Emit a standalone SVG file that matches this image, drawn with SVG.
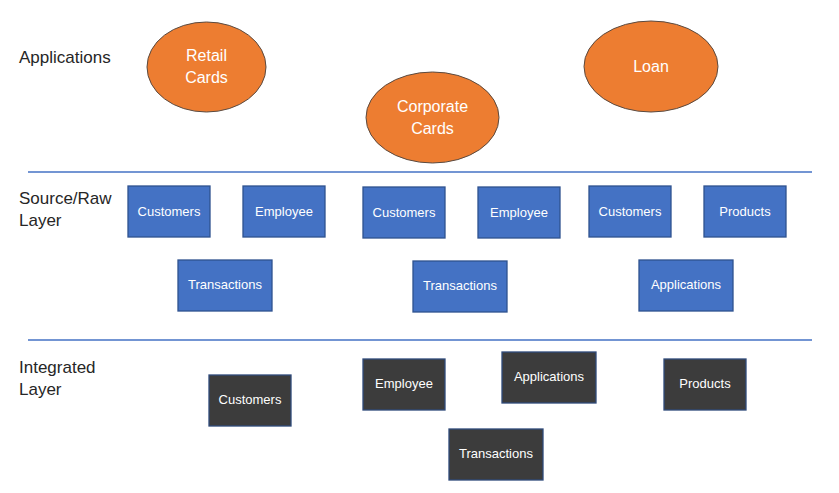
<svg xmlns="http://www.w3.org/2000/svg" width="839" height="493" viewBox="0 0 839 493">
<style>
.lbl{font-family:"Liberation Sans",Arial,sans-serif;font-size:17px;fill:#262626}
.app ellipse{fill:#ED7D31;stroke:#5a4a40;stroke-width:1}
.app text{font-family:"Liberation Sans",Arial,sans-serif;font-size:16px;fill:#ffffff;text-anchor:middle}
.src rect{fill:#4472C4;stroke:#2F528F;stroke-width:1.3}
.int rect{fill:#3C3C3C;stroke:#2F4A7A;stroke-width:1.3}
.src text,.int text{font-family:"Liberation Sans",Arial,sans-serif;font-size:13px;fill:#ffffff;text-anchor:middle}
.sep{stroke:#4472C4;stroke-width:1.5}
</style>
<rect width="839" height="493" fill="#ffffff"/>
<g id="labels">
<text class="lbl" x="19" y="63">Applications</text>
<text class="lbl" x="19" y="204">Source/Raw</text>
<text class="lbl" x="19" y="226">Layer</text>
<text class="lbl" x="19" y="373">Integrated</text>
<text class="lbl" x="19" y="395">Layer</text>
</g>
<g id="separators">
<line class="sep" x1="28" y1="172" x2="812" y2="172"/>
<line class="sep" x1="28" y1="340" x2="812" y2="340"/>
</g>
<g id="connectors"/>
<g id="app-retail" class="app"><ellipse cx="206.5" cy="67" rx="59.5" ry="45"/><text x="206.5" y="61">Retail</text><text x="206.5" y="83">Cards</text></g>
<g id="app-corporate" class="app"><ellipse cx="432.5" cy="117.5" rx="66.5" ry="45.5"/><text x="432.5" y="112">Corporate</text><text x="432.5" y="134">Cards</text></g>
<g id="app-loan" class="app"><ellipse cx="651" cy="66.5" rx="67" ry="45.5"/><text x="651" y="72">Loan</text></g>
<g id="src-customers-1" class="src"><rect x="128" y="186" width="82" height="51"/><text x="169" y="216">Customers</text></g>
<g id="src-employee-1" class="src"><rect x="243" y="186" width="82" height="51"/><text x="284" y="216">Employee</text></g>
<g id="src-customers-2" class="src"><rect x="363" y="187" width="82" height="51"/><text x="404" y="217">Customers</text></g>
<g id="src-employee-2" class="src"><rect x="478" y="187" width="82" height="51"/><text x="519" y="217">Employee</text></g>
<g id="src-customers-3" class="src"><rect x="589" y="186" width="82" height="51"/><text x="630" y="216">Customers</text></g>
<g id="src-products" class="src"><rect x="704" y="186" width="82" height="51"/><text x="745" y="216">Products</text></g>
<g id="src-transactions-1" class="src"><rect x="178" y="260" width="94" height="51"/><text x="225" y="289">Transactions</text></g>
<g id="src-transactions-2" class="src"><rect x="413" y="261" width="94" height="51"/><text x="460" y="290">Transactions</text></g>
<g id="src-applications" class="src"><rect x="639" y="260" width="94" height="51"/><text x="686" y="289">Applications</text></g>
<g id="int-customers" class="int"><rect x="209" y="375" width="82" height="51"/><text x="250" y="404">Customers</text></g>
<g id="int-employee" class="int"><rect x="363" y="359" width="82" height="51"/><text x="404" y="388">Employee</text></g>
<g id="int-applications" class="int"><rect x="502" y="352" width="94" height="51"/><text x="549" y="381">Applications</text></g>
<g id="int-products" class="int"><rect x="664" y="359" width="82" height="51"/><text x="705" y="388">Products</text></g>
<g id="int-transactions" class="int"><rect x="449" y="429" width="94" height="51"/><text x="496" y="458">Transactions</text></g>
</svg>
